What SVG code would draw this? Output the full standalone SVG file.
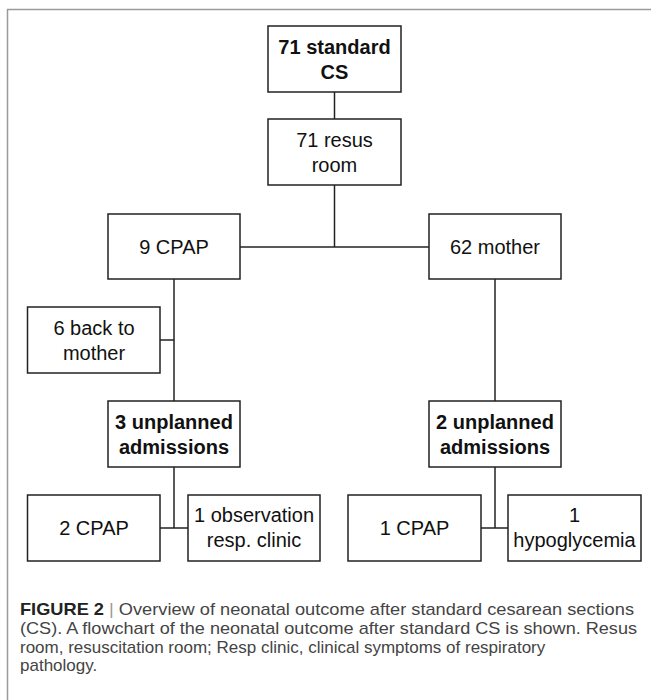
<svg xmlns="http://www.w3.org/2000/svg" width="651" height="700" viewBox="0 0 651 700">
<style>
.box{fill:#fff;stroke:#222;stroke-width:1.5}
.t{font-family:"Liberation Sans",Arial,sans-serif;font-size:20px;fill:#111;text-anchor:middle}
.b{font-weight:bold}
.ln{stroke:#222;stroke-width:1.5;fill:none}
.cap{font-family:"Liberation Sans",Arial,sans-serif;font-size:17px;fill:#444}
</style>
<rect width="651" height="700" fill="#fff"/>
<path d="M7.5,700 V9.5 H651" fill="none" stroke="#9a9a9a" stroke-width="1.5"/>
<g id="connectors" class="ln">
<path d="M334.5,92 V119"/>
<path d="M334.5,185 V247"/>
<path d="M240,247 H429"/>
<path d="M174,279 V401"/>
<path d="M160,340 H174"/>
<path d="M495,279 V401"/>
<path d="M174,467 V528"/>
<path d="M160,528 H188"/>
<path d="M495,467 V528"/>
<path d="M481,528 H508"/>
</g>
<g id="n1"><rect class="box" x="268" y="26" width="133" height="66"/><text class="t b" x="334.5" y="53.5">71 standard</text><text class="t b" x="334.5" y="78.5">CS</text></g>
<g id="n2"><rect class="box" x="268" y="119" width="133" height="66"/><text class="t" x="334.5" y="146.5">71 resus</text><text class="t" x="334.5" y="171.5">room</text></g>
<g id="n3"><rect class="box" x="108" y="214" width="132" height="65"/><text class="t" x="174" y="253.5">9 CPAP</text></g>
<g id="n4"><rect class="box" x="429" y="214" width="132" height="65"/><text class="t" x="495" y="253.5">62 mother</text></g>
<g id="n5"><rect class="box" x="27.5" y="307" width="132.5" height="66"/><text class="t" x="94" y="334.5">6 back to</text><text class="t" x="94" y="359.5">mother</text></g>
<g id="n6"><rect class="box" x="108" y="401" width="132" height="66"/><text class="t b" x="174" y="428.5">3 unplanned</text><text class="t b" x="174" y="453.5">admissions</text></g>
<g id="n7"><rect class="box" x="429" y="401" width="132" height="66"/><text class="t b" x="495" y="428.5">2 unplanned</text><text class="t b" x="495" y="453.5">admissions</text></g>
<g id="n8"><rect class="box" x="27.5" y="495" width="132.5" height="66"/><text class="t" x="94" y="535">2 CPAP</text></g>
<g id="n9"><rect class="box" x="188" y="495" width="132" height="66"/><text class="t" x="254" y="522">1 observation</text><text class="t" x="254" y="547">resp. clinic</text></g>
<g id="n10"><rect class="box" x="348" y="495" width="133" height="66"/><text class="t" x="414.5" y="535">1 CPAP</text></g>
<g id="n11"><rect class="box" x="508" y="495" width="133" height="66"/><text class="t" x="574.5" y="522">1</text><text class="t" x="574.5" y="547">hypoglycemia</text></g>
<g id="caption">
<text class="cap" x="20" y="615" textLength="614" lengthAdjust="spacingAndGlyphs"><tspan font-weight="bold" fill="#222">FIGURE 2</tspan><tspan fill="#999"> | </tspan>Overview of neonatal outcome after standard cesarean sections</text>
<text class="cap" x="20" y="634" textLength="617" lengthAdjust="spacingAndGlyphs">(CS). A flowchart of the neonatal outcome after standard CS is shown. Resus</text>
<text class="cap" x="20" y="652.5">room, resuscitation room; Resp clinic, clinical symptoms of respiratory</text>
<text class="cap" x="20" y="671">pathology.</text>
</g>
</svg>
